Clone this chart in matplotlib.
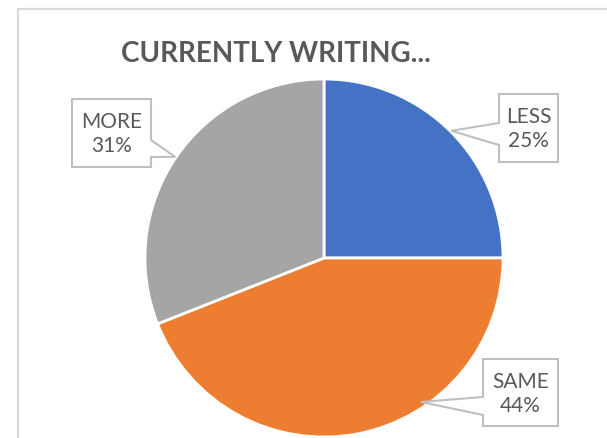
import numpy as np
import matplotlib
matplotlib.use("Agg")
import matplotlib.pyplot as plt
from matplotlib.patches import Polygon

labels = ["LESS", "SAME", "MORE"]
values = [25, 44, 31]
colors = ["#4472C4", "#ED7D31", "#A5A5A5"]

W, H = 607, 438
cx, cy, r = 324, 258, 179   # pie centre / radius in pixels

fig = plt.figure(figsize=(W / 100, H / 100), dpi=100)
fig.patch.set_facecolor("white")

# overlay in pixel coords (y down) for frame and callouts
ov = fig.add_axes([0, 0, 1, 1], zorder=3)
ov.set_xlim(0, W)
ov.set_ylim(H, 0)
ov.axis("off")
ov.patch.set_alpha(0)

ax = fig.add_axes([(cx - r) / W, (H - cy - r) / H, 2 * r / W, 2 * r / H], zorder=2)
ax.pie(values, colors=colors, startangle=90, counterclock=False,
       radius=1.0, wedgeprops=dict(edgecolor="white", linewidth=2))
ax.set_xlim(-1, 1)
ax.set_ylim(-1, 1)

# chart frame
ov.plot([17.5, 17.5, W + 5], [H + 5, 8.5, 8.5], color="#D9D9D9", lw=1.6,
        solid_capstyle="butt")

ov.text(276, 54, "CURRENTLY WRITING...", ha="center", va="center",
        fontsize=20, fontweight="bold", color="#595959", family="Lato")

# callout boxes: box (x0, y0, x1, y1), pointer side, pointer base (ya, yb)
boxes = {
    "LESS": ((499, 94, 558, 162), "left", (123, 145)),
    "SAME": ((483, 359, 558, 426), "left", (397, 415)),
    "MORE": ((72, 99, 151, 167), "right", (140, 157)),
}
# where the leader touches the pie (None = wedge middle), and radius factor
anchor = {"LESS": (None, 1.005), "SAME": (-56.0, 0.97), "MORE": (None, 1.005)}

total = sum(values)
start = 90.0
for lab, v in zip(labels, values):
    sweep = 360.0 * v / total
    mid = start - sweep / 2
    start -= sweep
    (x0, y0, x1, y1), side, (ya, yb) = boxes[lab]
    ang, rr = anchor[lab]
    if ang is None:
        ang = mid
    axp = cx + rr * r * np.cos(np.radians(ang))
    ayp = cy - rr * r * np.sin(np.radians(ang))
    if side == "left":
        pts = [(x0, y0), (x1, y0), (x1, y1), (x0, y1), (x0, yb), (axp, ayp), (x0, ya)]
    else:
        pts = [(x0, y0), (x1, y0), (x1, ya), (axp, ayp), (x1, yb), (x1, y1), (x0, y1)]
    ov.add_patch(Polygon(pts, closed=True, facecolor="white", edgecolor="#BFBFBF",
                         lw=1.5, joinstyle="miter"))
    pct = f"{round(100 * v / total)}%"
    ov.text((x0 + x1) / 2, (y0 + y1) / 2 + 1, f"{lab}\n{pct}", ha="center",
            va="center", fontsize=15, color="#595959", family="Lato",
            linespacing=1.25)

fig.savefig("out.png", dpi=100, facecolor="white")
